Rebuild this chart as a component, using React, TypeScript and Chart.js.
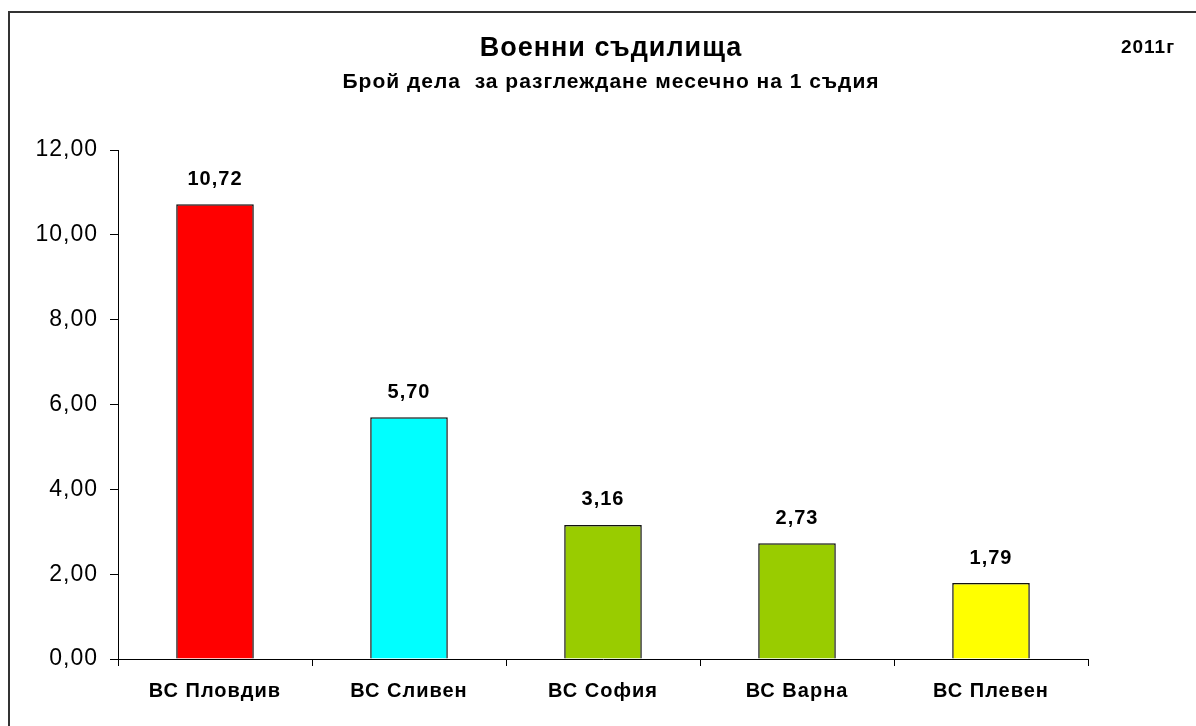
import React, { useEffect, useRef } from "react";
import { Chart, registerables } from "chart.js";

Chart.register(...registerables);

const categories = ["ВС Пловдив", "ВС Сливен", "ВС София", "ВС Варна", "ВС Плевен"];
const values = [10.72, 5.7, 3.16, 2.73, 1.79];
const barColors = ["#FF0000", "#00FFFF", "#99CC00", "#99CC00", "#FFFF00"];
const titleText = "Военни съдилища";
const subtitleText = "Брой дела  за разглеждане месечно на 1 съдия";
const yearText = "2011г";
const yMin = 0;
const yMax = 12;
const yStep = 2;

const FONT = "'Liberation Sans', Arial, sans-serif";

const fmt = (v: number) => v.toFixed(2).replace(".", ",");

const decorPlugin = {
  id: "decor",
  beforeDraw(chart: any) {
    const ctx = chart.ctx;
    ctx.letterSpacing = "1px";
  },
  afterDraw(chart: any) {
    const ctx = chart.ctx;
    ctx.save();
    // frame
    ctx.strokeStyle = "#333333";
    ctx.lineWidth = 2;
    ctx.strokeRect(9, 12, 1400, 900);
    ctx.fillStyle = "#000";
    ctx.textAlign = "center";
    ctx.textBaseline = "middle";
    ctx.letterSpacing = "1px";
    ctx.font = `bold 27px ${FONT}`;
    ctx.fillText(titleText, 611, 49);
    ctx.font = `bold 21px ${FONT}`;
    ctx.fillText(subtitleText, 611, 82);
    ctx.font = `bold 19px ${FONT}`;
    ctx.fillText(yearText, 1148, 48);
    // data labels
    const meta = chart.getDatasetMeta(0);
    ctx.font = `bold 20px ${FONT}`;
    meta.data.forEach((bar: any, i: number) => {
      ctx.fillText(fmt(values[i]), bar.x, bar.y - 25);
    });
    ctx.restore();
  },
};

export default function App() {
  const ref = useRef<HTMLCanvasElement>(null);
  useEffect(() => {
    if (!ref.current) return;
    const chart = new Chart(ref.current, {
      type: "bar",
      data: {
        labels: categories,
        datasets: [
          {
            data: values,
            backgroundColor: barColors,
            borderColor: "#111111",
            borderWidth: 1.5,
            barPercentage: 0.4,
            categoryPercentage: 1,
          },
        ],
      },
      options: {
        animation: false,
        responsive: false,
        devicePixelRatio: 1,
        layout: { padding: { top: 150, right: 108, left: 0, bottom: 0 } },
        plugins: {
          legend: { display: false },
          tooltip: { enabled: false },
          title: { display: false },
        },
        scales: {
          x: {
            grid: {
              display: true,
              drawOnChartArea: false,
              drawTicks: true,
              tickLength: 7,
              color: "#000",
              offset: true,
            },
            border: { display: true, color: "#000", width: 1 },
            ticks: {
              color: "#000",
              font: { family: FONT, size: 20, weight: "bold" },
              padding: 13,
              maxRotation: 0,
              autoSkip: false,
            },
            afterFit: (s: any) => {
              s.height = 67;
            },
          },
          y: {
            min: yMin,
            max: yMax,
            grid: {
              display: true,
              drawOnChartArea: false,
              drawTicks: true,
              tickLength: 8,
              color: "#000",
            },
            border: { display: true, color: "#000", width: 1 },
            ticks: {
              stepSize: yStep,
              color: "#000",
              font: { family: FONT, size: 23 },
              padding: 12,
              callback: (v: any) => fmt(Number(v)),
            },
            afterFit: (s: any) => {
              s.width = 118;
            },
          },
        },
      },
      plugins: [decorPlugin],
    });
    return () => chart.destroy();
  }, []);
  return (
    <canvas
      ref={ref}
      width={1196}
      height={726}
      style={{ position: "absolute", left: 0, top: 0, width: 1196, height: 726 }}
    />
  );
}
